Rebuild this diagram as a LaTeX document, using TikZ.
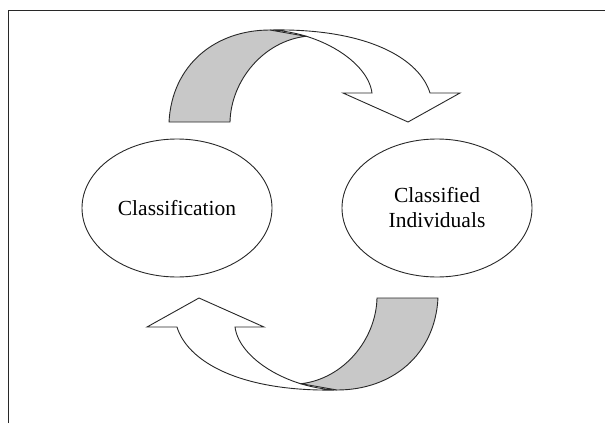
\documentclass[tikz,border=0pt]{standalone}
\usepackage{fontspec}
\setmainfont{Liberation Serif}
\usetikzlibrary{shapes.geometric}
\definecolor{bandgray}{RGB}{200,200,200}
\definecolor{linegray}{RGB}{40,40,40}
\newcommand\myarrowshape{%
  \draw[arrowline, fill=white] (270,30) .. controls (370,28) and (420,60) .. (430,93)
     -- (460,93) -- (408,122) -- (343,93) -- (372,93)
     .. controls (368,62) and (320,32) .. (270,30) -- cycle;
  \draw[arrowline, fill=bandgray] (169,122) .. controls (172,65) and (215,30) .. (270,30)
     -- (306,36.3) .. controls (264,41) and (231,80) .. (230,122) -- cycle;
}
\begin{document}
\begin{tikzpicture}[x=1pt,y=-1pt,
  arrowline/.style={draw=linegray, line width=0.9pt, line join=miter},
  oval/.style={ellipse, draw=linegray, line width=0.9pt, minimum width=190pt,
    minimum height=138pt, inner sep=0pt, font=\fontsize{21.5}{25}\selectfont, align=center}]
\useasboundingbox (0,0) rectangle (605,423);
\draw[linegray, line width=1pt] (8,423) -- (8,10) -- (605,10);
\node[oval] (cls) at (177,208) {Classification};
\node[oval] (ind) at (437,208) {Classified\\Individuals};
\myarrowshape
\begin{scope}[rotate around={180:(303.5,210)}]
  \myarrowshape
\end{scope}
\end{tikzpicture}
\end{document}
